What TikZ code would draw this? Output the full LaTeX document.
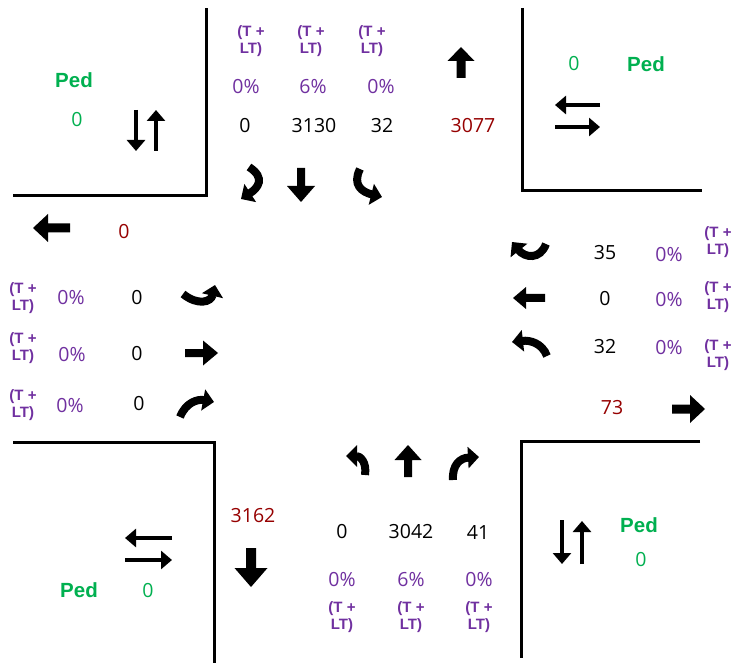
\documentclass[tikz,border=0pt]{standalone}
\usepackage{fontspec}
\setmainfont{Open Sans}
\newfontfamily\arialf{Liberation Sans}
\usetikzlibrary{arrows.meta}
\definecolor{tpurple}{RGB}{112,48,160}
\definecolor{tgreen}{RGB}{0,176,80}
\definecolor{tred}{RGB}{150,0,0}
\newcommand\blkarrow[6]{%
  \fill[shift={#1}, rotate=#2] (0,0) -- (-#6,#5/2) -- (-#6,#4/2) -- (-#3,#4/2)
    -- (-#3,-#4/2) -- (-#6,-#4/2) -- (-#6,-#5/2) -- cycle;}
\begin{document}
\begin{tikzpicture}[x=1pt,y=-1pt,
  num/.style={font=\fontsize{19.5}{22}\selectfont, inner sep=0pt},
  vol/.style={num, text=black},
  pct/.style={num, text=tpurple},
  exitv/.style={num, text=tred},
  tlt/.style={font=\fontsize{15}{17}\selectfont\arialf\bfseries, text=tpurple, align=center, inner sep=0pt},
  pedl/.style={font=\fontsize{20.5}{24}\selectfont\arialf\bfseries, text=tgreen, inner sep=0pt},
  pedv/.style={num, text=tgreen},
  curb/.style={line width=3pt},
  curv/.style={line width=8pt, -{Triangle[length=11pt,width=21pt]}},
  pedarr/.style={line width=4pt, -{Triangle[length=11pt,width=18pt]}}
]
\useasboundingbox (0,0) rectangle (734,663);
\fill[white] (0,0) rectangle (734,663);

% curbs
\draw[curb] (13,196) -- (206,196) -- (206,8);
\draw[curb] (522,8) -- (522,191) -- (702,191);
\draw[curb] (13,442) -- (214,442) -- (214,663);
\draw[curb] (700,441) -- (521,441) -- (521,658);

% pedestrians
\node[pedl] (pedNWl) at (74,80) {Ped};
\node[pedv] (pedNWv) at (77,120) {0};
\draw[pedarr] (136,110) -- (136,151);
\draw[pedarr] (156,151) -- (156,110);
\node[pedv] (pedNEv) at (574,64) {0};
\node[pedl] (pedNEl) at (646,64) {Ped};
\draw[pedarr] (600,105) -- (555,105);
\draw[pedarr] (555,127) -- (600,127);
\node[pedl] (pedSWl) at (79,590) {Ped};
\node[pedv] (pedSWv) at (148,591) {0};
\draw[pedarr] (172,538) -- (125,538);
\draw[pedarr] (125,560) -- (172,560);
\node[pedl] (pedSEl) at (639,525) {Ped};
\node[pedv] (pedSEv) at (641,560) {0};
\draw[pedarr] (562,520) -- (562,564);
\draw[pedarr] (582,564) -- (582,521);

% southbound approach (top)
\node[tlt] (sbT1) at (251,41) {(T +\\LT)};
\node[tlt] (sbT2) at (311,41) {(T +\\LT)};
\node[tlt] (sbT3) at (372,41) {(T +\\LT)};
\node[pct] (sbP1) at (246,87) {0\%};
\node[pct] (sbP2) at (313,87) {6\%};
\node[pct] (sbP3) at (381,87) {0\%};
\node[vol] (sbV1) at (245,126) {0};
\node[vol] (sbV2) at (314,126) {3130};
\node[vol] (sbV3) at (382,126) {32};
\node[exitv] (nbExit) at (473,126) {3077};
\blkarrow{(461,47)}{90}{31}{9}{27}{14}
\draw[curv] (249,167) .. controls (266,178) and (258,188) .. (241,199);
\blkarrow{(301,202)}{270}{34}{8}{28}{16}
\draw[curv] (360,169) .. controls (352,185) and (362,192) .. (382,197);

% eastbound approach (left)
\blkarrow{(33,228)}{180}{37}{9}{28}{15}
\node[exitv] (wbExit) at (124,232) {0};
\node[tlt] (ebT1) at (23,298) {(T +\\LT)};
\node[tlt] (ebT2) at (23,348) {(T +\\LT)};
\node[tlt] (ebT3) at (23,405) {(T +\\LT)};
\node[pct] (ebP1) at (71,298) {0\%};
\node[pct] (ebP2) at (72,355) {0\%};
\node[pct] (ebP3) at (70,406) {0\%};
\node[vol] (ebV1) at (137,298) {0};
\node[vol] (ebV2) at (137,354) {0};
\node[vol] (ebV3) at (139,404) {0};
\draw[curv] (183,294) .. controls (198,306) and (211,302) .. (215,285);
\blkarrow{(218,353)}{0}{33}{8}{25}{15}
\draw[curv] (180,417) .. controls (186,402) and (198,399) .. (214,402);

% westbound approach (right)
\draw[curv] (546,244) .. controls (540,260) and (525,258) .. (512,242);
\blkarrow{(513,298)}{180}{32}{8}{22}{13}
\draw[curv] (547,356) .. controls (542,343) and (530,340) .. (512,342);
\node[vol] (wbV1) at (605,253) {35};
\node[vol] (wbV2) at (605,299) {0};
\node[vol] (wbV3) at (605,347) {32};
\node[pct] (wbP1) at (669,255) {0\%};
\node[pct] (wbP2) at (669,300) {0\%};
\node[pct] (wbP3) at (669,348) {0\%};
\node[tlt] (wbT1) at (718,242) {(T +\\LT)};
\node[tlt] (wbT2) at (718,297) {(T +\\LT)};
\node[tlt] (wbT3) at (718,355) {(T +\\LT)};
\node[exitv] (ebExit) at (612,408) {73};
\blkarrow{(705,409)}{0}{33}{9}{28}{15}

% northbound approach (bottom)
\draw[curv] (365,475) .. controls (367,462) and (360,456) .. (346,456);
\blkarrow{(408,445)}{90}{32}{8}{27}{15}
\draw[curv] (453,480) .. controls (452,465) and (460,458) .. (479,457);
\node[exitv] (sbExit) at (253,516) {3162};
\blkarrow{(251,587)}{270}{39}{10}{33}{19}
\node[vol] (nbV1) at (342,532) {0};
\node[vol] (nbV2) at (411,532) {3042};
\node[vol] (nbV3) at (478,532) {41};
\node[pct] (nbP1) at (342,580) {0\%};
\node[pct] (nbP2) at (411,580) {6\%};
\node[pct] (nbP3) at (479,580) {0\%};
\node[tlt] (nbT1) at (342,617) {(T +\\LT)};
\node[tlt] (nbT2) at (411,617) {(T +\\LT)};
\node[tlt] (nbT3) at (479,617) {(T +\\LT)};
\end{tikzpicture}
\end{document}
